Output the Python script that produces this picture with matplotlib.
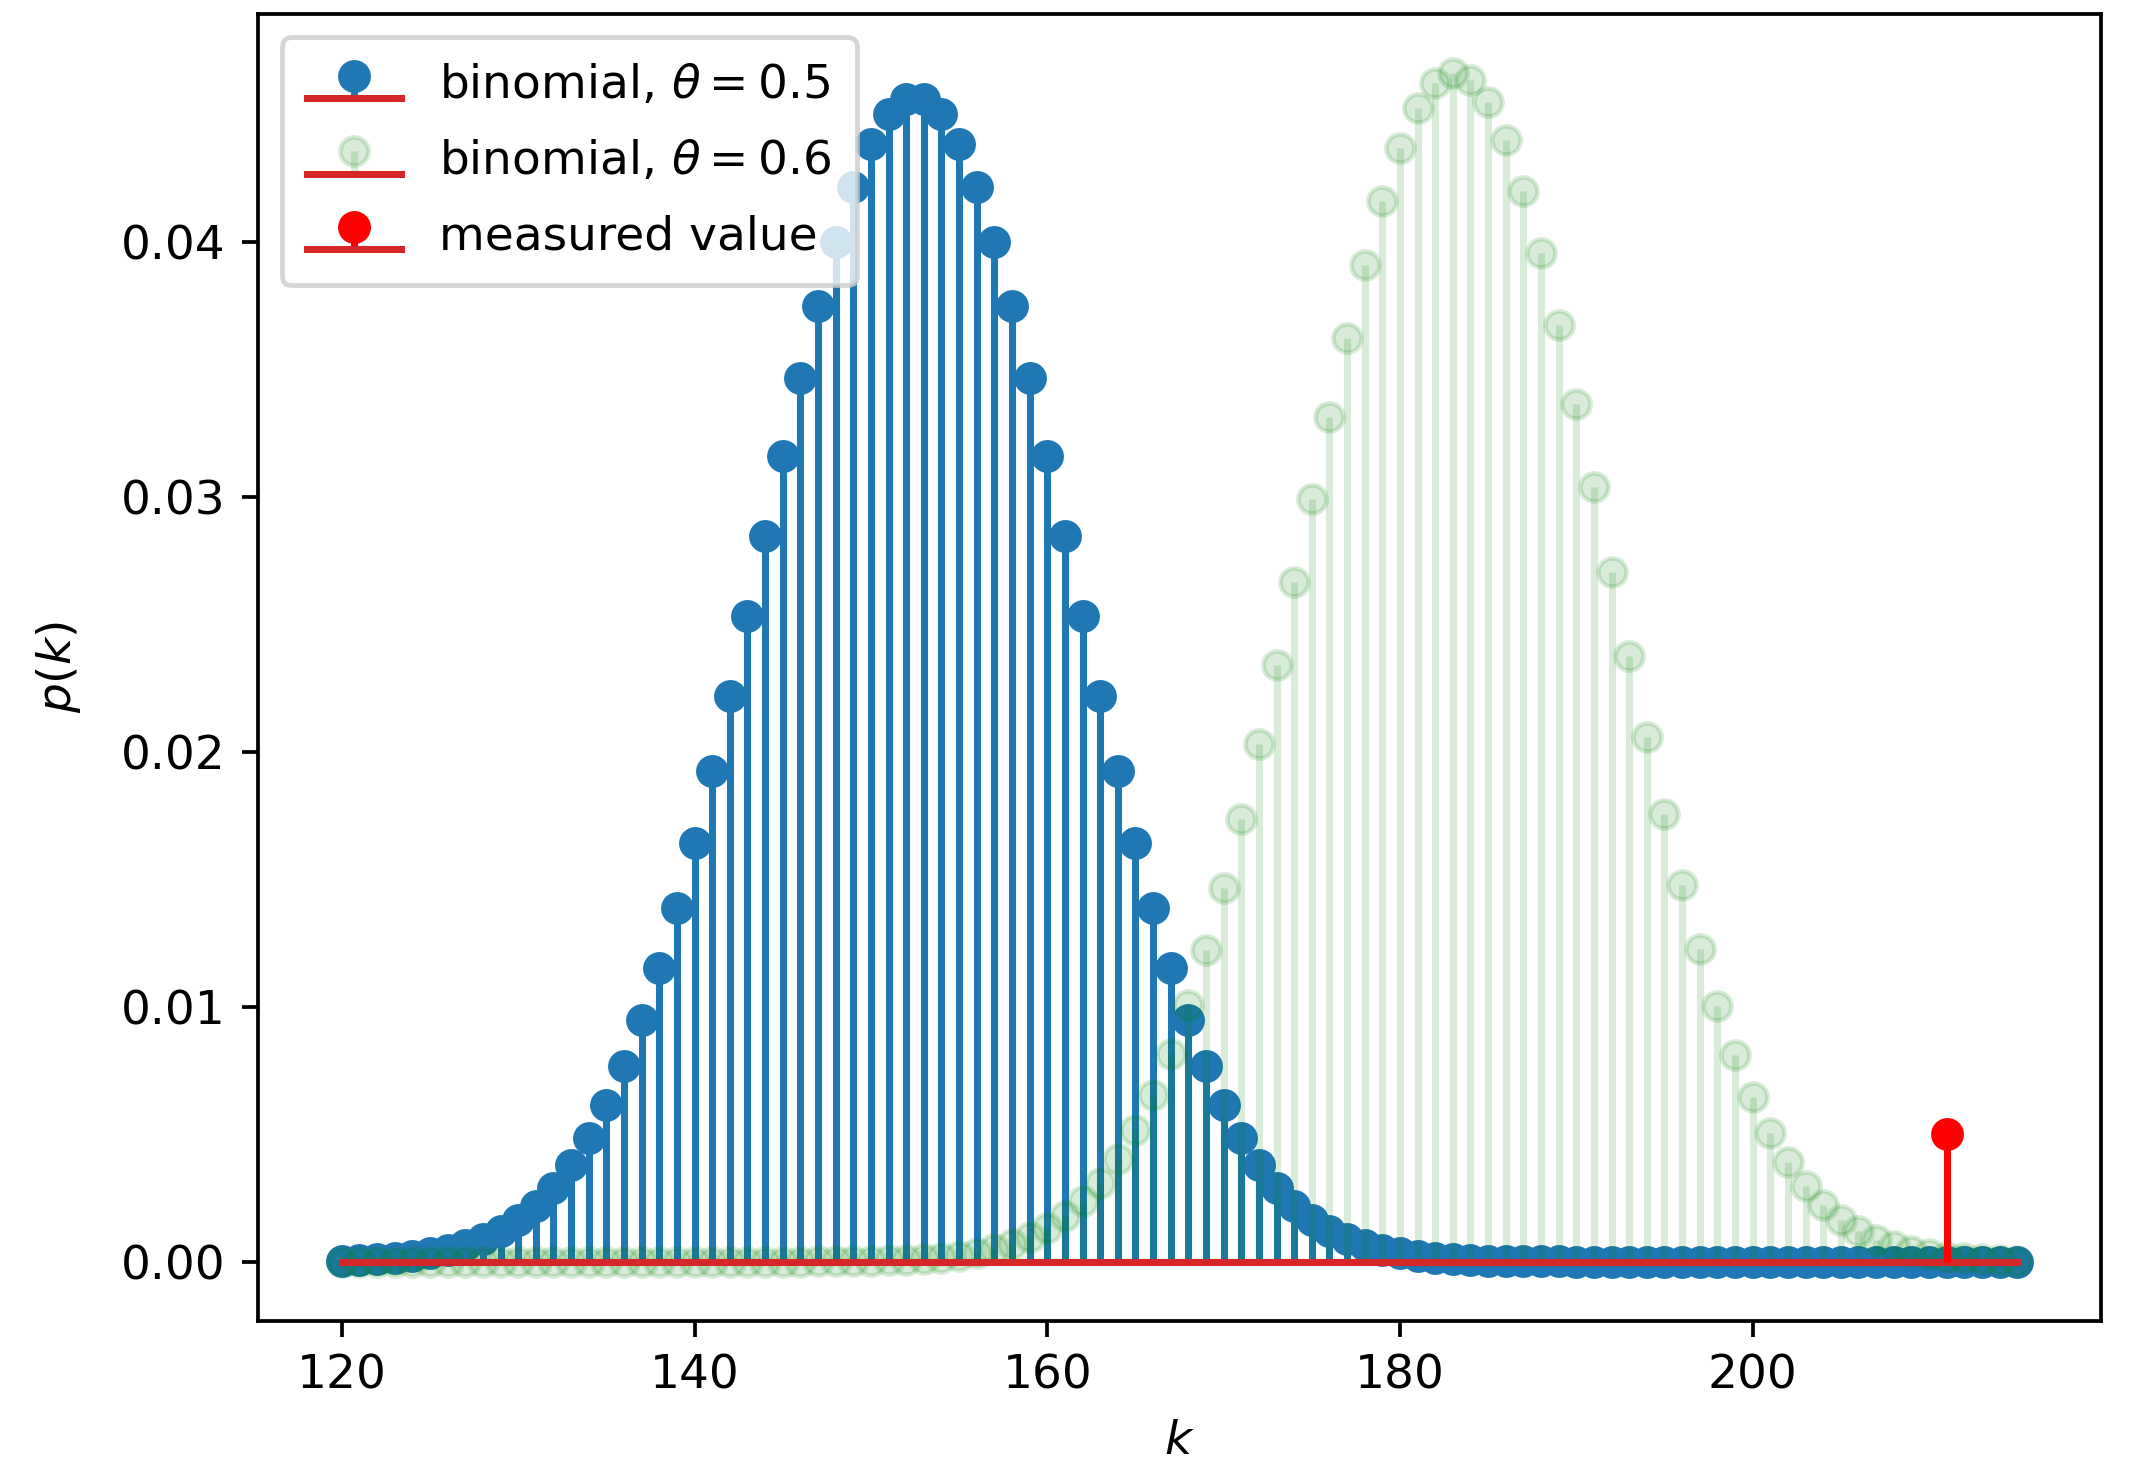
import numpy as np
import matplotlib
matplotlib.use("Agg")
import matplotlib.pyplot as plt

# k values shown on the x axis
k = np.arange(120, 216)

# p(k), in units of 1e-5
p_half = [4, 7, 10, 15, 22, 32, 45, 64, 89, 122, 165, 220, 290, 378, 485, 614, 768, 947,
          1153, 1385, 1642, 1922, 2219, 2530, 2846, 3160, 3463, 3746, 3999, 4214, 4382, 4498,
          4557, 4557, 4498, 4382, 4214, 3999, 3746, 3463, 3160, 2846, 2530, 2219, 1922, 1642,
          1385, 1153, 947, 768, 614, 485, 378, 290, 220, 165, 122, 89, 64, 45, 32, 22, 15, 10,
          7, 4, 3, 2, 1, 1, 0, 0, 0, 0, 0, 0, 0, 0, 0, 0, 0, 0, 0, 0, 0, 0, 0, 0, 0, 0, 0, 0,
          0, 0, 0, 0]
p_six = [0, 0, 0, 0, 0, 0, 0, 0, 0, 0, 0, 0, 0, 0, 0, 0, 0, 0, 0, 0, 0, 0, 0, 0, 0, 0, 0,
         1, 1, 2, 3, 5, 7, 11, 16, 24, 34, 49, 69, 96, 131, 177, 236, 310, 403, 516, 653, 816,
         1005, 1222, 1466, 1736, 2029, 2340, 2663, 2990, 3312, 3621, 3906, 4157, 4365, 4522,
         4621, 4659, 4634, 4546, 4399, 4199, 3954, 3671, 3362, 3036, 2704, 2375, 2057, 1756,
         1478, 1227, 1004, 810, 644, 504, 390, 296, 222, 164, 120, 86, 61, 42, 29, 20, 13, 9,
         5, 3]

k_meas = [211]
p_meas = [0.005]

p_half = np.array(p_half) * 1e-5
p_six = np.array(p_six) * 1e-5

dpi = 338
fig = plt.figure(figsize=(2131 / dpi, 1461 / dpi), dpi=dpi)
ax = fig.add_axes([0.1211, 0.0958, 0.8648, 0.8946])

ax.stem(k, p_half, label=r"binomial, $\theta = 0.5$")
s2 = ax.stem(k, p_six, linefmt="g-", markerfmt="go", label=r"binomial, $\theta = 0.6$")
plt.setp(s2.markerline, alpha=0.15)
plt.setp(s2.stemlines, alpha=0.15)
ax.stem(k_meas, p_meas, linefmt="r-", markerfmt="ro", label="measured value")

ax.set_xlabel("$k$", labelpad=4.3)
ax.set_ylabel("$p(k)$", labelpad=8)
ax.legend(loc="upper left", borderpad=0.55, labelspacing=0.65)

fig.savefig("out.png", dpi=dpi)
